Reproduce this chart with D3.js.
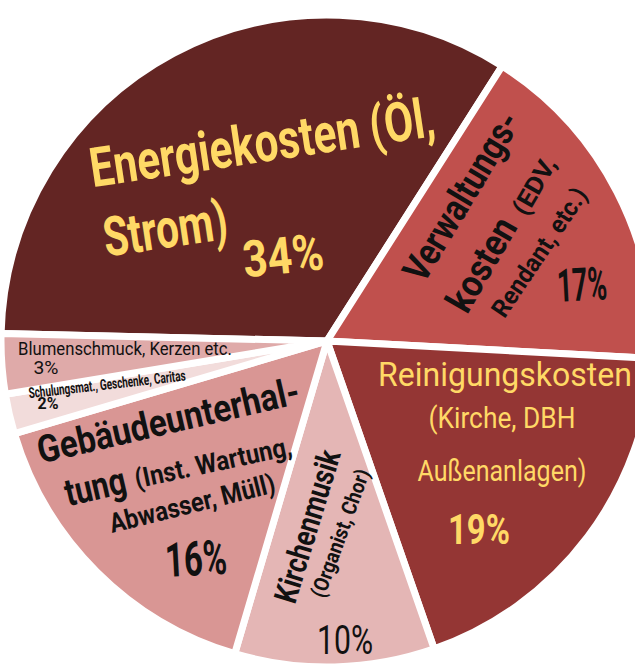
<!DOCTYPE html>
<html>
<head>
<meta charset="utf-8">
<script src="https://cdn.jsdelivr.net/npm/d3@7"></script>
<style>
  body { margin: 0; background: #fff; }
</style>
</head>
<body>
<div id="chart"></div>
<script>
// Data ------------------------------------------------------------
const categories = ["Energiekosten", "Verwaltungskosten", "Reinigungskosten", "Kirchenmusik",
                    "Gebäudeunterhaltung", "Schulungsmat., Geschenke, Caritas", "Blumenschmuck, Kerzen etc."];
const shares = [34, 17, 19, 10, 16, 2, 3];
const sliceColors = ["#632523", "#c0504d", "#943634", "#e4b6b5", "#d99694", "#f2dcdb", "#dfaaa9"];

// label text, line by line (slice index, text); percent lines come from shares
const labelText = [
    [0, "Energiekosten (Öl,"], [0, "Strom)"], [0, "%"],
    [1, "Verwaltungs-"], [1, "kosten"], [1, "(EDV,"], [1, "Rendant, etc.)"], [1, "%"],
    [2, "Reinigungskosten"], [2, "(Kirche, DBH"], [2, "Außenanlagen)"], [2, "%"],
    [3, "Kirchenmusik"], [3, "(Organist, Chor)"], [3, "%"],
    [4, "Gebäudeunterhal-"], [4, "tung"], [4, "(Inst. Wartung,"], [4, "Abwasser, Müll)"], [4, "%"],
    [6, "Blumenschmuck, Kerzen etc."], [6, "%"],
    [5, "Schulungsmat., Geschenke, Caritas"], [5, "%"]
];

// Layout ----------------------------------------------------------
const width = 635, height = 666;
const cx = 327, cy = 341, radius = 326;
const yellow = "#ffd966", ink = "#111";

// where each label line sits: centre x/y, rotation, font size, fitted width, weight, colour
const labelLayout = [
    { x: 262, y: 142, a: -8.5, s: 55, w: 348, b: 700, c: yellow },
    { x: 165, y: 228, a: -8.5, s: 55, w: 125, b: 700, c: yellow },
    { x: 283, y: 255, a: -6,   s: 51, w: 81,  b: 700, c: yellow },
    { x: 461, y: 196, a: -59,  s: 38, w: 190, b: 700, c: ink },
    { x: 481, y: 264, a: -60,  s: 38, w: 102, b: 700, c: ink },
    { x: 534, y: 186, a: -60,  s: 25, w: 62,  b: 700, c: ink },
    { x: 539, y: 252, a: -56,  s: 25, w: 150, b: 700, c: ink },
    { x: 582, y: 284, a: -3,   s: 46, w: 50,  b: 700, c: ink },
    { x: 505, y: 374, a: 0,    s: 34, w: 254, b: 400, c: yellow },
    { x: 502, y: 417, a: 0,    s: 30, w: 147, b: 400, c: yellow },
    { x: 502, y: 470, a: 0,    s: 30, w: 169, b: 400, c: yellow },
    { x: 479, y: 529, a: 0,    s: 42, w: 62,  b: 700, c: yellow },
    { x: 307, y: 526, a: -73,  s: 32, w: 158, b: 700, c: ink },
    { x: 340, y: 533, a: -70,  s: 21, w: 135, b: 700, c: ink },
    { x: 345, y: 640, a: 0,    s: 40, w: 56,  b: 400, c: ink },
    { x: 168, y: 420, a: -13,  s: 38, w: 268, b: 700, c: ink },
    { x: 95,  y: 486, a: -13,  s: 38, w: 62,  b: 700, c: ink },
    { x: 213, y: 462, a: -12,  s: 27, w: 160, b: 700, c: ink },
    { x: 192, y: 503, a: -14,  s: 27, w: 170, b: 700, c: ink },
    { x: 196, y: 558, a: -3,   s: 48, w: 62,  b: 700, c: ink },
    { x: 125, y: 348, a: 0,    s: 19, w: 214, b: 400, c: ink },
    { x: 46,  y: 368, a: 0,    s: 18, w: 25,  b: 400, c: ink },
    { x: 107, y: 384, a: -6.5, s: 15, w: 158, b: 700, c: ink },
    { x: 48,  y: 403, a: 0,    s: 16, w: 21,  b: 700, c: ink }
];

const svg = d3.select("#chart")
    .append("svg")
    .attr("width", width)
    .attr("height", height);

const g = svg.append("g")
    .attr("transform", "translate(" + cx + "," + cy + ")");

// Pie -------------------------------------------------------------
const pie = d3.pie()
    .sort(null)
    .startAngle(-88.7 * Math.PI / 180)
    .endAngle((360 - 88.7) * Math.PI / 180);

const arc = d3.arc()
    .innerRadius(0)
    .outerRadius(radius);

g.selectAll("path.slice")
    .data(pie(shares))
    .enter()
    .append("path")
    .attr("class", "slice")
    .attr("d", arc)
    .attr("fill", (d, i) => sliceColors[i])
    .attr("stroke", "#fff")
    .attr("stroke-width", 7)
    .attr("stroke-linejoin", "round");

// Labels ----------------------------------------------------------
// the original uses a condensed face, so each line is squeezed to its width
labelText.forEach(function (t, i) {
    const L = labelLayout[i];
    const txt = t[1] === "%" ? shares[t[0]] + "%" : t[1];
    const label = svg.append("text")
        .attr("text-anchor", "middle")
        .attr("dy", "0.36em")
        .attr("font-family", "Roboto, 'DejaVu Sans', sans-serif")
        .attr("font-weight", L.b)
        .attr("font-size", L.s)
        .attr("fill", L.c)
        .text(txt);
    const natural = label.node().getComputedTextLength();
    const sx = L.w / natural;
    label.attr("transform", "translate(" + L.x + "," + L.y + ") rotate(" + L.a + ") scale(" + sx + ",1)");
});
</script>
</body>
</html>
